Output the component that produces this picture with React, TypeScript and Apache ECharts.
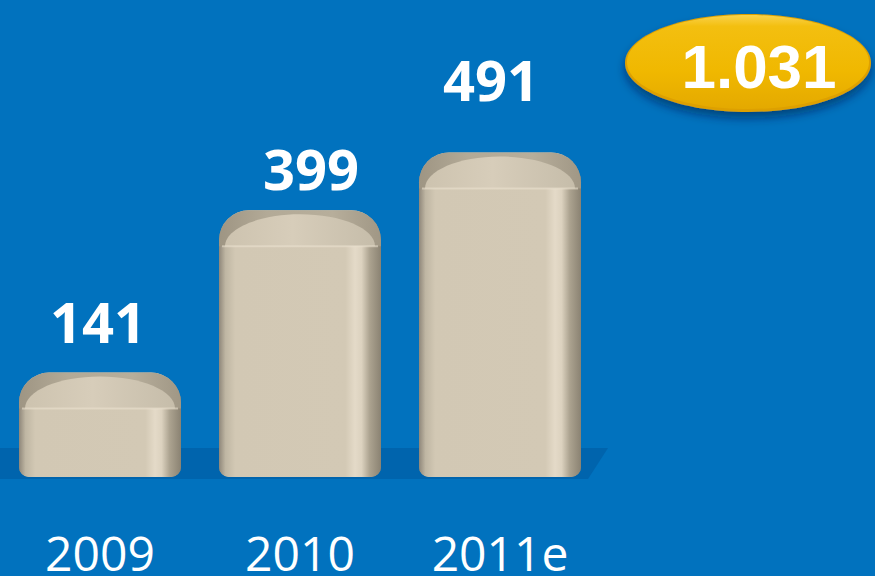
import React, { useEffect, useRef } from "react";
import * as echarts from "echarts";

const categories = ["2009", "2010", "2011e"];
const values = [141, 399, 491];
const labelShiftX = [-2, 11, -9];
const labelLift = [52, 42, 73];

const Y_MIN = -25;
const Y_MAX = 700;

const BG = "#0172BE";

export default function App() {
  const ref = useRef<HTMLDivElement>(null);

  useEffect(() => {
    const chart = echarts.init(ref.current!, null, { renderer: "svg" });
    const total = values.reduce((a, b) => a + b, 0);
    const totalLabel = String(total).replace(/\B(?=(\d{3})+(?!\d))/g, ".");

    const bodyGrad = () =>
      new echarts.graphic.LinearGradient(0, 0, 1, 0, [
        { offset: 0, color: "#8f877a" },
        { offset: 0.04, color: "#bfb6a3" },
        { offset: 0.1, color: "#d2c8b4" },
        { offset: 0.78, color: "#d3c9b5" },
        { offset: 0.84, color: "#e4dac8" },
        { offset: 0.88, color: "#dcd2bf" },
        { offset: 0.93, color: "#aca390" },
        { offset: 1, color: "#8a8272" },
      ]);

    const option: any = {
      animation: false,
      backgroundColor: BG,
      grid: { left: 0, right: 275, top: 21, bottom: 99, containLabel: false },
      xAxis: {
        type: "category",
        data: categories,
        axisLine: { show: false },
        axisTick: { show: false },
        splitLine: { show: false },
        axisLabel: {
          color: "#ffffff",
          fontSize: 48,
          fontFamily: "Open Sans",
          margin: 51,
          lineHeight: 48,
        },
      },
      yAxis: {
        type: "value",
        min: Y_MIN,
        max: Y_MAX,
        show: false,
        splitLine: { show: false },
      },
      graphic: [
        {
          type: "polygon",
          z: 0,
          shape: {
            points: [
              [0, 448],
              [608, 448],
              [588, 479],
              [0, 479],
            ],
          },
          style: { fill: "rgba(0,45,105,0.2)" },
        },
        {
          type: "ellipse",
          z: 10,
          shape: { cx: 748, cy: 63, rx: 123, ry: 49 },
          style: {
            fill: "#DDA000",
            shadowBlur: 10,
            shadowOffsetY: 6,
            shadowColor: "rgba(0,20,60,0.5)",
          },
        },
        {
          type: "ellipse",
          z: 11,
          shape: { cx: 748, cy: 62, rx: 121, ry: 47 },
          style: {
            fill: new echarts.graphic.LinearGradient(0, 0, 0, 1, [
              { offset: 0, color: "#FAD24A" },
              { offset: 0.12, color: "#F3BF10" },
              { offset: 0.6, color: "#F0B800" },
              { offset: 1, color: "#E4A900" },
            ]),
          },
        },
        {
          type: "text",
          z: 12,
          x: 759,
          y: 66,
          style: {
            text: totalLabel,
            fill: "#ffffff",
            fontSize: 62,
            fontWeight: "bold",
            fontFamily: "Liberation Sans",
            align: "center",
            verticalAlign: "middle",
            shadowColor: "rgba(80,50,0,0.45)",
            shadowBlur: 4,
            shadowOffsetX: 2,
            shadowOffsetY: 2,
          },
        },
      ],
      series: [
        {
          type: "custom",
          z: 2,
          data: values.map((v, i) => [i, v]),
          encode: { x: 0, y: 1 },
          renderItem: (params: any, api: any) => {
            const i = api.value(0);
            const v = api.value(1);
            const top = api.coord([i, v]);
            const base = api.coord([i, Y_MIN]);
            const band = api.size([1, 0])[0];
            const w = band * 0.81;
            const x = top[0] - w / 2;
            const yT = top[1];
            const yB = base[1];
            const h = yB - yT;
            const capH = 36;
            const r = 30;
            return {
              type: "group",
              children: [
                {
                  type: "rect",
                  shape: { x, y: yT, width: w, height: h, r: [r, r, 10, 10] },
                  style: { fill: bodyGrad() },
                },
                {
                  type: "rect",
                  shape: { x, y: yT, width: w, height: capH + 2, r: [r, r, 0, 0] },
                  style: {
                    fill: new echarts.graphic.LinearGradient(0, 0, 1, 0, [
                      { offset: 0, color: "#9e9583" },
                      { offset: 0.3, color: "#b3aa97" },
                      { offset: 0.7, color: "#b7ae9b" },
                      { offset: 1, color: "#a09785" },
                    ]),
                  },
                },
                {
                  type: "ellipse",
                  shape: { cx: x + w / 2, cy: yT + capH, rx: w / 2 - 6, ry: capH - 4 },
                  style: {
                    fill: new echarts.graphic.LinearGradient(0, 0, 1, 0, [
                      { offset: 0, color: "#cdc3af" },
                      { offset: 0.45, color: "#d7cdba" },
                      { offset: 1, color: "#c6bdaa" },
                    ]),
                  },
                },
                {
                  type: "rect",
                  shape: { x, y: yT + capH, width: w, height: h - capH, r: [0, 0, 10, 10] },
                  style: { fill: bodyGrad() },
                },
                {
                  type: "rect",
                  shape: { x: x + 3, y: yT + capH - 1, width: w - 6, height: 2 },
                  style: { fill: "rgba(236,228,210,0.55)" },
                },
                {
                  type: "text",
                  x: top[0] + labelShiftX[i],
                  y: yT - labelLift[i],
                  style: {
                    text: String(v),
                    fill: "#ffffff",
                    fontSize: 56,
                    fontWeight: "bold",
                    fontFamily: "Open Sans",
                    align: "center",
                    verticalAlign: "middle",
                    shadowColor: "rgba(0,0,0,0.45)",
                    shadowBlur: 4,
                    shadowOffsetX: 2,
                    shadowOffsetY: 3,
                  },
                },
              ],
            };
          },
        },
      ],
    };

    chart.setOption(option);
    return () => chart.dispose();
  }, []);

  return (
    <div
      ref={ref}
      style={{ position: "fixed", left: 0, top: 0, width: 875, height: 576 }}
    />
  );
}
